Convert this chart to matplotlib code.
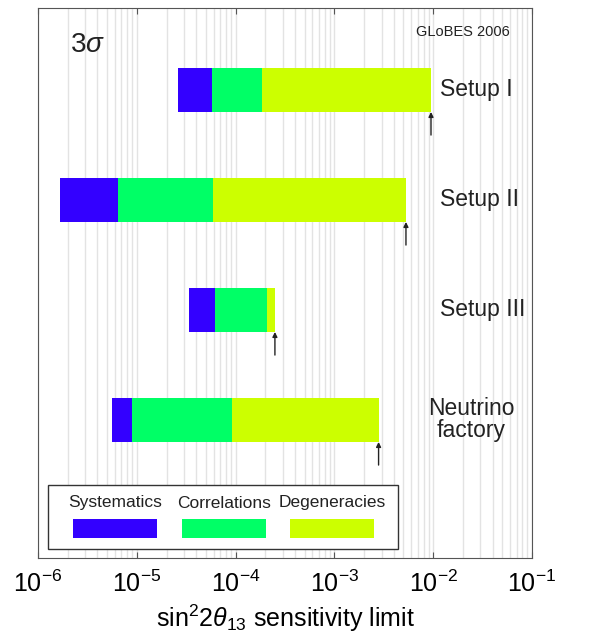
import matplotlib
matplotlib.use("Agg")
import matplotlib.pyplot as plt
from matplotlib.patches import Rectangle
import numpy as np

plt.rcParams['font.family'] = ['Liberation Sans', 'DejaVu Sans']
plt.rcParams['mathtext.fontset'] = 'custom'
plt.rcParams['mathtext.rm'] = 'Liberation Sans'
plt.rcParams['mathtext.it'] = 'Liberation Sans:italic'
plt.rcParams['mathtext.bf'] = 'Liberation Sans:bold'

setups = ["Setup I", "Setup II", "Setup III", "Neutrino\nfactory"]
sys_start = [2.6e-5, 1.67e-6, 3.4e-5, 5.6e-6]
corr_start = [5.8e-5, 6.45e-6, 6.2e-5, 9.0e-6]
deg_start = [1.85e-4, 5.9e-5, 2.08e-4, 9.3e-5]
deg_end = [9.5e-3, 5.3e-3, 2.5e-4, 2.8e-3]
legend_labels = ["Systematics", "Correlations", "Degeneracies"]
colors = ["#3300ff", "#00ff66", "#ccff00"]

ypos = [4.255, 3.255, 2.255, 1.255]
bh = 0.4

fig = plt.figure(figsize=(6.15, 6.39), dpi=100)
ax = fig.add_axes([38/615, 1-558/639, (532-38)/615, 550/639])
ax.set_xscale('log')
ax.set_xlim(1e-6, 1e-1)
ax.set_ylim(0, 5)

# grid
ax.grid(True, which='both', axis='x', color='#e3e3e3', linewidth=1.0)
ax.set_axisbelow(True)

for i, y in enumerate(ypos):
    segs = [(sys_start[i], corr_start[i]), (corr_start[i], deg_start[i]), (deg_start[i], deg_end[i])]
    for (a, b), c in zip(segs, colors):
        ax.barh(y, b - a, left=a, height=bh, color=c, edgecolor='none', zorder=3)
    ax.annotate('', xy=(deg_end[i], y - bh/2), xytext=(deg_end[i], y - bh/2 - 0.21),
                arrowprops=dict(arrowstyle='-|>', color='#222222', lw=1.0,
                                mutation_scale=7, shrinkA=0, shrinkB=0), zorder=4)

# labels for setups
label_x = [(440-38)/494]*3 + [(471-38)/494]
for i, y in enumerate(ypos):
    if i < 3:
        ax.text(label_x[i], y, setups[i], transform=ax.get_yaxis_transform(),
                ha='left', va='center', fontsize=16.5, color='#222222')
    else:
        ax.text(label_x[i], y, setups[i], transform=ax.get_yaxis_transform(),
                ha='center', va='center', fontsize=16.5, color='#222222', linespacing=0.95)

ax.text((70-38)/494, (558-45)/550, r'$3\sigma$', transform=ax.transAxes,
        fontsize=20, ha='left', va='center', color='#222222')
ax.text((510-38)/494, (558-32)/550, 'GLoBES 2006', transform=ax.transAxes,
        fontsize=10.5, ha='right', va='center', color='#222222')

# manual legend
lx0, lx1 = (48-38)/494, (398-38)/494
ly0, ly1 = (558-549)/550, (558-485)/550
ax.add_patch(Rectangle((lx0, ly0), lx1-lx0, ly1-ly0, transform=ax.transAxes,
                       facecolor='white', edgecolor='#333333', lw=1.0, zorder=5))
patch_x = [73, 182, 290]
for px, lab, c in zip(patch_x, legend_labels, colors):
    x0 = (px-38)/494
    w = 84/494
    ax.add_patch(Rectangle((x0, (558-538)/550), w, 19/550, transform=ax.transAxes,
                           facecolor=c, edgecolor='none', zorder=6))
    ax.text(x0 + w/2, (558-503)/550, lab, transform=ax.transAxes, ha='center',
            va='center', fontsize=12.5, color='#222222', zorder=7)

ax.set_yticks([])
ax.tick_params(axis='x', which='major', direction='in', top=True, length=4,
               labelsize=18, pad=9, color='#555555')
ax.tick_params(axis='x', which='minor', length=0)
for s in ax.spines.values():
    s.set_color('#555555')
ax.set_xlabel(r'sin$^2$2$\theta_{13}$ sensitivity limit', fontsize=18, labelpad=4)

fig.savefig('out.png', dpi=100)
